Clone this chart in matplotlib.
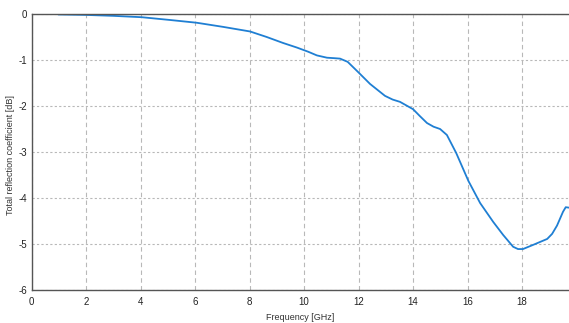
import numpy as np
from matplotlib import pyplot as plt

plt.rcParams['font.family'] = ['Liberation Sans Narrow', 'Liberation Sans', 'DejaVu Sans']
plt.rcParams['axes.unicode_minus'] = False

# frequency [GHz] and total reflection coefficient [dB]
freq = [1.0, 2.0, 3.0, 4.05, 5.08, 6.06, 7.03, 8.02, 8.63, 9.23, 9.74, 10.15,
        10.47, 10.84, 11.1, 11.32, 11.6, 11.98, 12.42, 12.97, 13.25, 13.52,
        14.0, 14.25, 14.51, 14.75, 14.99, 15.24, 15.58, 16.03, 16.46, 16.94,
        17.3, 17.67, 17.85, 18.03, 18.4, 18.92, 19.1, 19.28, 19.5, 19.6, 19.72]
refl = [-0.01, -0.02, -0.04, -0.07, -0.13, -0.19, -0.28, -0.38, -0.5, -0.63,
        -0.73, -0.82, -0.9, -0.95, -0.96, -0.97, -1.04, -1.26, -1.52, -1.78,
        -1.86, -1.91, -2.07, -2.22, -2.37, -2.45, -2.5, -2.63, -3.02, -3.63,
        -4.11, -4.52, -4.8, -5.06, -5.11, -5.11, -5.02, -4.89, -4.78, -4.6,
        -4.3, -4.2, -4.21]

xticks = np.arange(0, 20, 2)
yticks = np.arange(-6, 1, 1)

fig = plt.figure(figsize=(5.69, 3.23), dpi=100)
ax = fig.add_axes([31.5 / 569, 1 - 290 / 323, 1 - 31.5 / 569, (290 - 14) / 323])

ax.plot(freq, refl, color='#1f7fd3', lw=1.3)

ax.set_xlim(0, 19.72)
ax.set_ylim(-6, 0)
ax.set_xticks(xticks)
ax.set_yticks(yticks)
ax.tick_params(axis='x', length=0, labelsize=7, pad=5, colors='#222222')
ax.tick_params(axis='y', length=0, labelsize=7, pad=3, colors='#222222')

ax.xaxis.grid(True, color='#b8b8b8', ls=(0, (4, 3)), lw=0.8)
ax.yaxis.grid(True, color='#b8b8b8', ls=(0, (2, 2)), lw=0.8)
ax.set_axisbelow(True)

for s in ['left', 'bottom', 'top']:
    ax.spines[s].set_color('#555555')
    ax.spines[s].set_linewidth(1.0)
ax.spines['right'].set_visible(False)

ax.set_xlabel('Frequency [GHz]', fontsize=6.5, color='#333333', labelpad=4)
ax.set_ylabel('Total reflection coefficient [dB]', fontsize=6.5, color='#333333')
ax.yaxis.set_label_coords(-0.031, 0.49)

fig.savefig('out.png', dpi=100)
